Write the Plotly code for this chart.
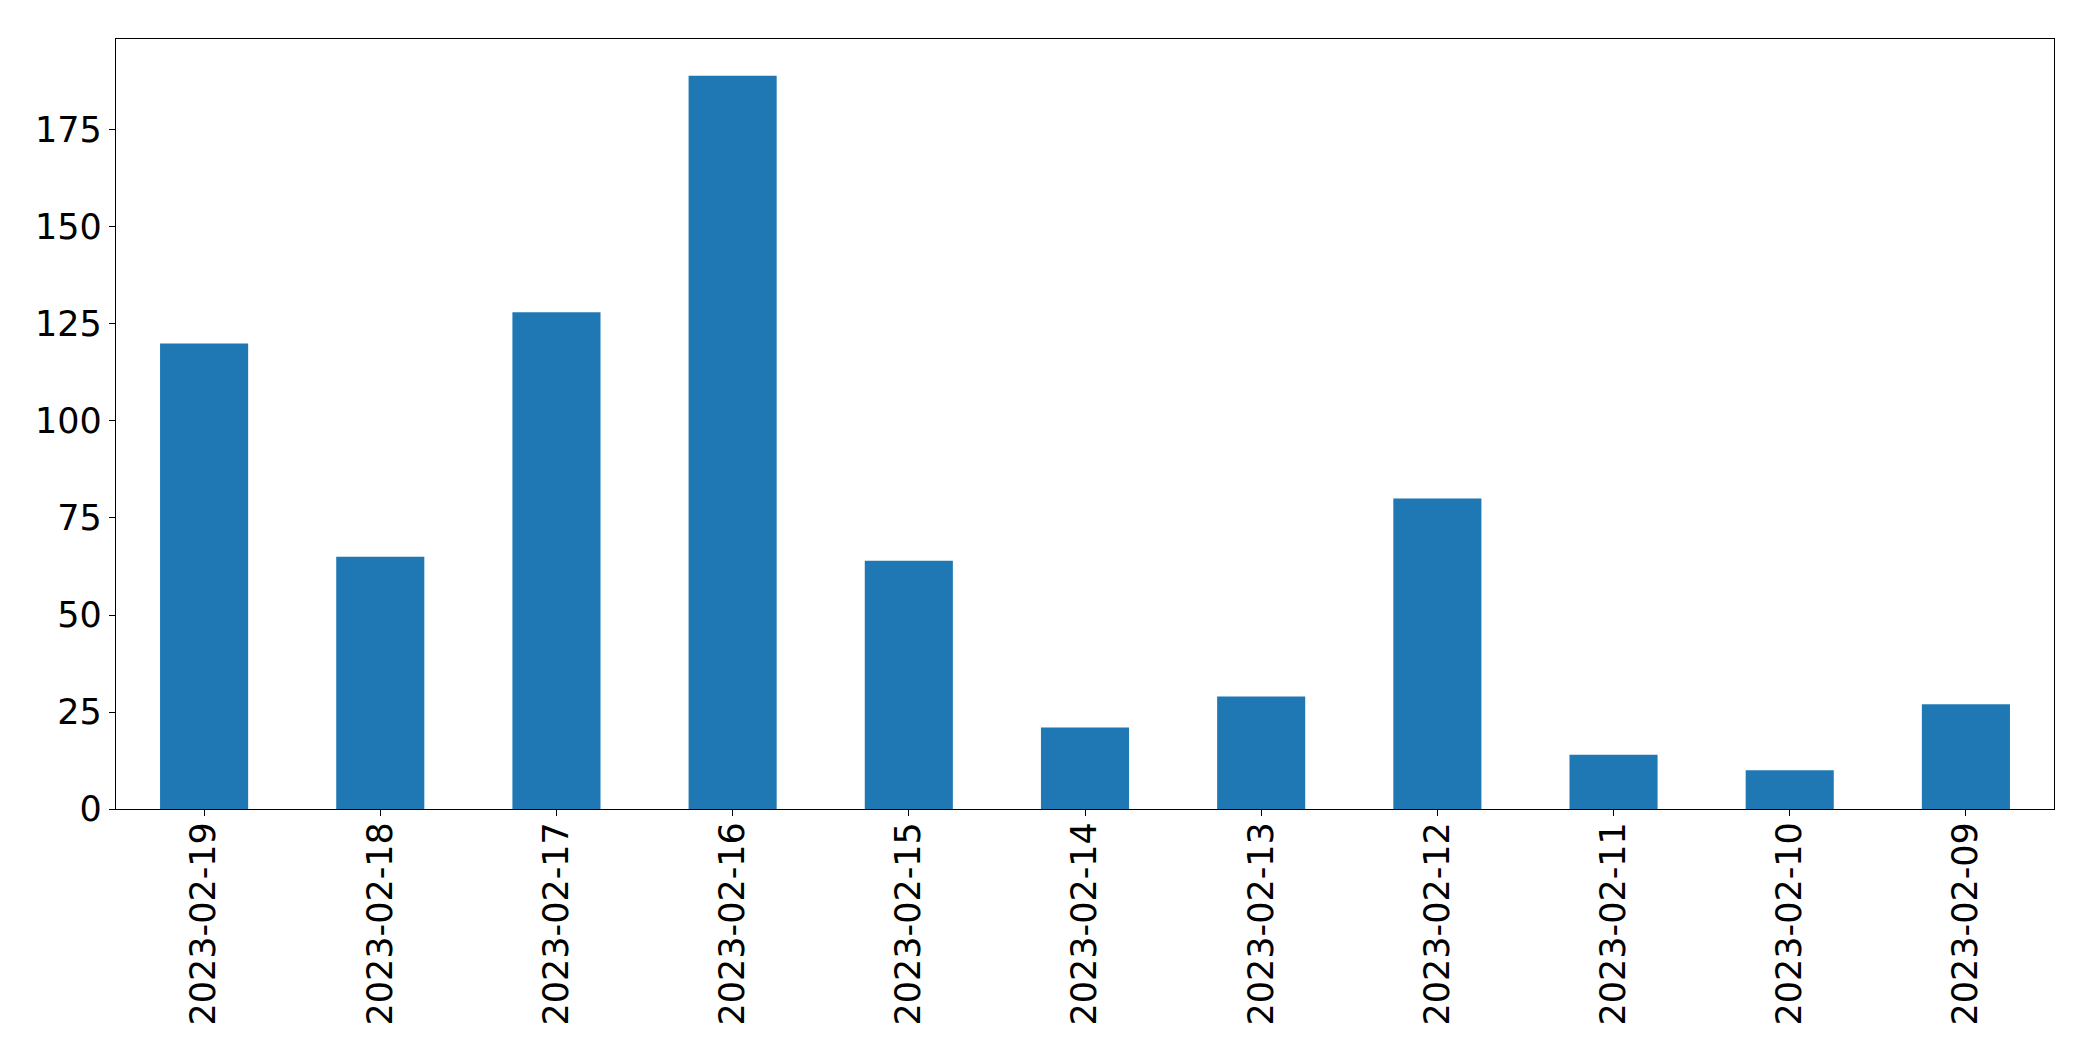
import plotly.graph_objects as go

dates = ["2023-02-19", "2023-02-18", "2023-02-17", "2023-02-16", "2023-02-15",
         "2023-02-14", "2023-02-13", "2023-02-12", "2023-02-11", "2023-02-10",
         "2023-02-09"]
counts = [120, 65, 128, 189, 64, 21, 29, 80, 14, 10, 27]
y_ticks = [0, 25, 50, 75, 100, 125, 150, 175]

fig = go.Figure()
fig.add_trace(go.Bar(
    x=list(range(len(dates))),
    y=counts,
    width=0.5,
    marker=dict(color="#1f77b4", line=dict(width=0)),
))

fig.update_layout(
    width=2093, height=1061,
    margin=dict(l=108, r=47, t=31, b=260, pad=0),
    paper_bgcolor="white", plot_bgcolor="white",
    showlegend=False,
    font=dict(family="DejaVu Sans", size=35, color="black"),
)
fig.update_xaxes(
    range=[-0.5, len(dates) - 0.5],
    tickmode="array", tickvals=list(range(len(dates))), ticktext=dates,
    tickangle=-90,
    ticklabelstandoff=-8,
    showline=True, linecolor="black", linewidth=1.3, mirror=True,
    ticks="outside", ticklen=6, tickwidth=1.3, tickcolor="black",
    showgrid=False, zeroline=False,
)
fig.update_yaxes(
    range=[0, max(counts) * 1.05],
    tickmode="array", tickvals=y_ticks,
    showline=True, linecolor="black", linewidth=1.3, mirror=True,
    ticks="outside", ticklen=6, tickwidth=1.3, tickcolor="black",
    showgrid=False, zeroline=False,
)

fig.write_html("out.html")
